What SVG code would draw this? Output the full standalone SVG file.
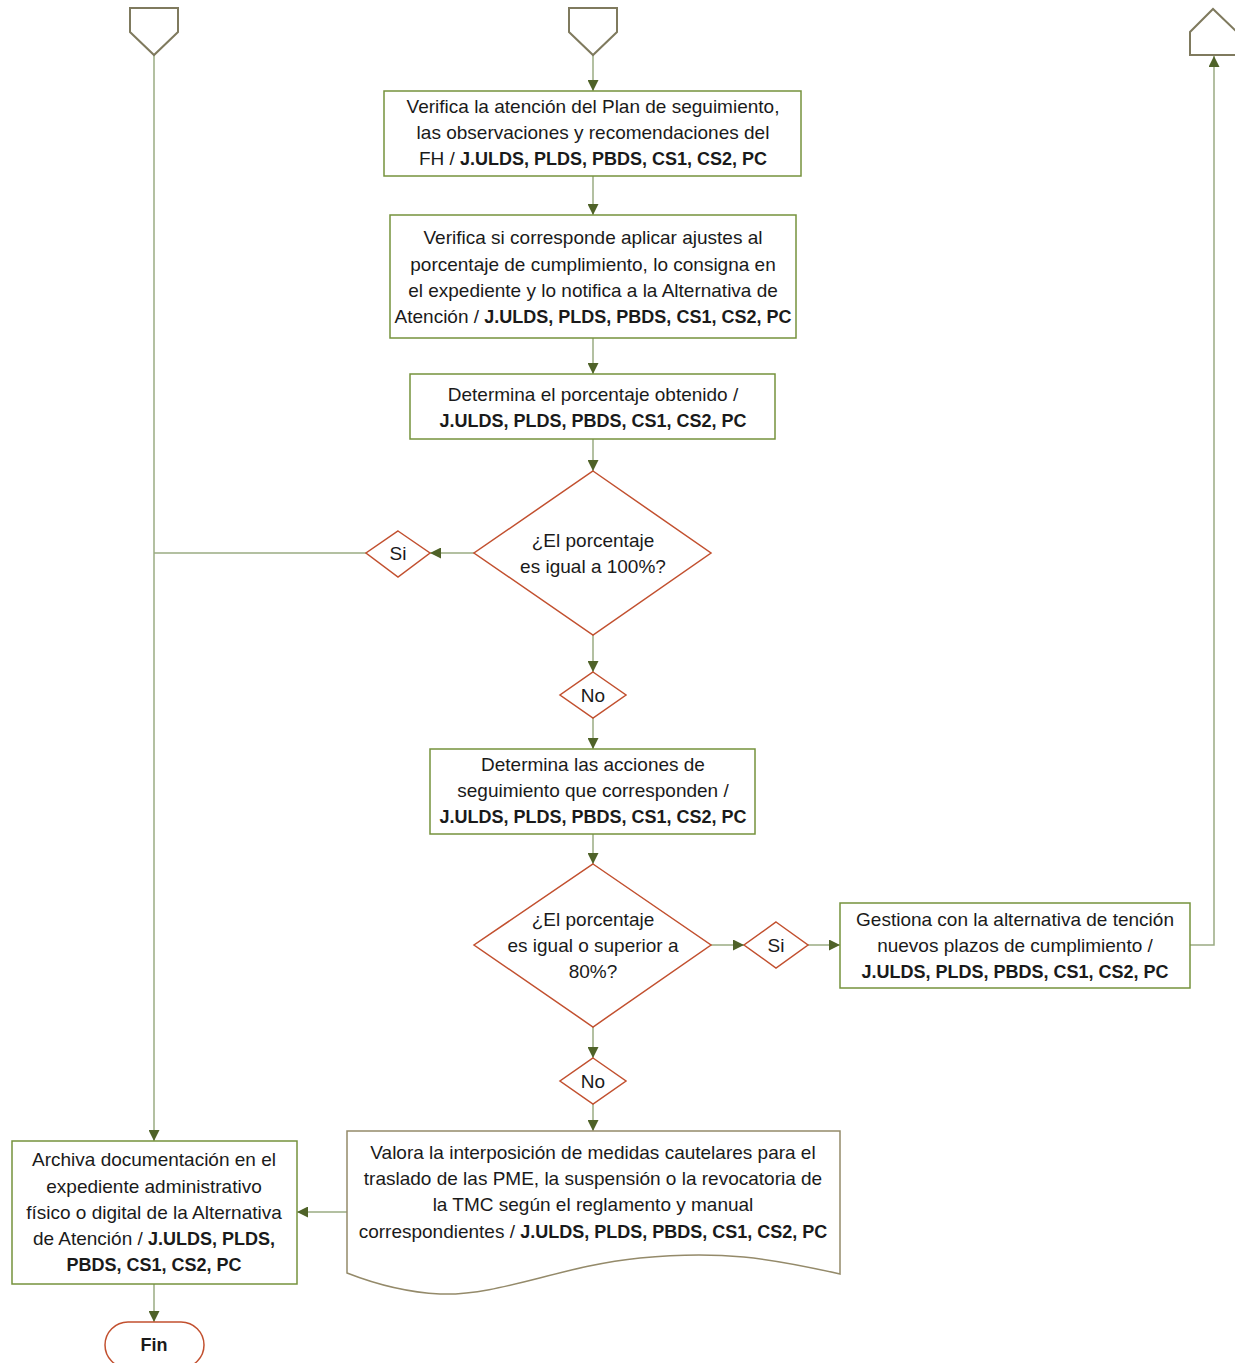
<svg xmlns="http://www.w3.org/2000/svg" width="1235" height="1363" viewBox="0 0 1235 1363">
<defs>
<style>
.box{fill:#fff;stroke:#76923c;stroke-width:1.5}
.dia{fill:#fff;stroke:#c2502f;stroke-width:1.5}
.off{fill:#fff;stroke:#7f7a5e;stroke-width:2}
.doc{fill:#fff;stroke:#948a6a;stroke-width:1.5}
.ln{fill:none;stroke:#9aab82;stroke-width:1.5}
text{font-family:"Liberation Sans",Arial,sans-serif;font-size:19px;fill:#1a1a1a;text-anchor:middle}
.b{font-weight:bold;font-size:18px}
</style>
<marker id="ah" viewBox="0 0 10 10" refX="10" refY="5" markerWidth="11" markerHeight="11" markerUnits="userSpaceOnUse" orient="auto">
<path d="M0,0 L10,5 L0,10 z" fill="#4f6228"/>
</marker>
</defs>
<g id="connectors">
<path class="ln" d="M154,55 V1141" marker-end="url(#ah)"/>
<path class="ln" d="M593,55 V91" marker-end="url(#ah)"/>
<path class="ln" d="M593,176 V215" marker-end="url(#ah)"/>
<path class="ln" d="M593,338 V374" marker-end="url(#ah)"/>
<path class="ln" d="M593,439 V471" marker-end="url(#ah)"/>
<path class="ln" d="M474,553 H430" marker-end="url(#ah)"/>
<path class="ln" d="M366,553 H154"/>
<path class="ln" d="M593,635 V672" marker-end="url(#ah)"/>
<path class="ln" d="M593,718 V749" marker-end="url(#ah)"/>
<path class="ln" d="M593,834 V864" marker-end="url(#ah)"/>
<path class="ln" d="M711,945 H744" marker-end="url(#ah)"/>
<path class="ln" d="M808,945 H840" marker-end="url(#ah)"/>
<path class="ln" d="M1190,945 H1214 V56" marker-end="url(#ah)"/>
<path class="ln" d="M593,1027 V1058" marker-end="url(#ah)"/>
<path class="ln" d="M593,1104 V1131" marker-end="url(#ah)"/>
<path class="ln" d="M347,1212 H297" marker-end="url(#ah)"/>
<path class="ln" d="M154,1284 V1322" marker-end="url(#ah)"/>
</g>
<g id="off1"><path class="off" d="M130,8 H178 V32 L154,55 L130,32 Z"/></g>
<g id="off2"><path class="off" d="M569,8 H617 V32 L593,55 L569,32 Z"/></g>
<g id="off3"><path class="off" d="M1190,55 V32 L1213,9 L1237,32 V55 Z"/></g>
<g id="n1">
<rect class="box" x="384" y="91" width="417" height="85"/>
<text x="593" y="113">Verifica la atención del Plan de seguimiento,</text>
<text x="593" y="139">las observaciones y recomendaciones del</text>
<text x="593" y="165">FH / <tspan class="b">J.ULDS, PLDS, PBDS, CS1, CS2, PC</tspan></text>
</g>
<g id="n2">
<rect class="box" x="390" y="215" width="406" height="123"/>
<text x="593" y="244">Verifica si corresponde aplicar ajustes al</text>
<text x="593" y="271">porcentaje de cumplimiento, lo consigna en</text>
<text x="593" y="297">el expediente y lo notifica a la Alternativa de</text>
<text x="593" y="323">Atención / <tspan class="b">J.ULDS, PLDS, PBDS, CS1, CS2, PC</tspan></text>
</g>
<g id="n3">
<rect class="box" x="410" y="374" width="365" height="65"/>
<text x="593" y="401">Determina el porcentaje obtenido /</text>
<text x="593" y="427" class="b">J.ULDS, PLDS, PBDS, CS1, CS2, PC</text>
</g>
<g id="d1">
<path class="dia" d="M593,471 L711,553 L593,635 L474,553 Z"/>
<text x="593" y="547">¿El porcentaje</text>
<text x="593" y="573">es igual a 100%?</text>
</g>
<g id="si1">
<path class="dia" d="M398,531 L430,553 L398,577 L366,553 Z"/>
<text x="398" y="560">Si</text>
</g>
<g id="no1">
<path class="dia" d="M593,672 L626,695 L593,718 L560,695 Z"/>
<text x="593" y="702">No</text>
</g>
<g id="n4">
<rect class="box" x="430" y="749" width="325" height="85"/>
<text x="593" y="771">Determina las acciones de</text>
<text x="593" y="797">seguimiento que corresponden /</text>
<text x="593" y="823" class="b">J.ULDS, PLDS, PBDS, CS1, CS2, PC</text>
</g>
<g id="d2">
<path class="dia" d="M593,864 L711,945 L593,1027 L474,945 Z"/>
<text x="593" y="926">¿El porcentaje</text>
<text x="593" y="952">es igual o superior a</text>
<text x="593" y="978">80%?</text>
</g>
<g id="si2">
<path class="dia" d="M776,922 L808,945 L776,968 L744,945 Z"/>
<text x="776" y="952">Si</text>
</g>
<g id="n5">
<rect class="box" x="840" y="903" width="350" height="85"/>
<text x="1015" y="926">Gestiona con la alternativa de tención</text>
<text x="1015" y="952">nuevos plazos de cumplimiento /</text>
<text x="1015" y="978" class="b">J.ULDS, PLDS, PBDS, CS1, CS2, PC</text>
</g>
<g id="no2">
<path class="dia" d="M593,1058 L626,1081 L593,1104 L560,1081 Z"/>
<text x="593" y="1088">No</text>
</g>
<g id="n6">
<path class="doc" d="M347,1131 H840 V1274 C770,1258 720,1250 640,1258 C560,1266 500,1296 440,1294 C400,1292 370,1282 347,1273 Z"/>
<text x="593" y="1159">Valora la interposición de medidas cautelares para el</text>
<text x="593" y="1185">traslado de las PME, la suspensión o la revocatoria de</text>
<text x="593" y="1211">la TMC según el reglamento y manual</text>
<text x="593" y="1238">correspondientes  / <tspan class="b">J.ULDS, PLDS, PBDS, CS1, CS2, PC</tspan></text>
</g>
<g id="n7">
<rect class="box" x="12" y="1141" width="285" height="143"/>
<text x="154" y="1166">Archiva documentación en el</text>
<text x="154" y="1193">expediente administrativo</text>
<text x="154" y="1219">físico o digital de la Alternativa</text>
<text x="154" y="1245">de Atención / <tspan class="b">J.ULDS, PLDS,</tspan></text>
<text x="154" y="1271" class="b">PBDS, CS1, CS2, PC</text>
</g>
<g id="fin">
<rect x="105" y="1322" width="99" height="46" rx="23" ry="23" fill="#fff" stroke="#c2502f" stroke-width="1.5"/>
<text x="154" y="1351" class="b">Fin</text>
</g>
</svg>
